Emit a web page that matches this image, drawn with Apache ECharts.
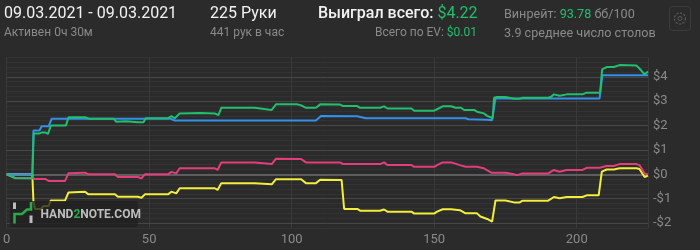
<!DOCTYPE html>
<html>
<head>
<meta charset="utf-8">
<script src="https://cdn.jsdelivr.net/npm/echarts@6/dist/echarts.min.js"></script>
<style>
html,body{margin:0;padding:0;background:#2b2b2b;}
#c{width:700px;height:250px;}
</style>
</head>
<body>
<div id="c"></div>
<script>
// ---- data (hand number, dollars) ----
const greenHands = [0,3,9,9.5,11.5,12.5,13.5,14.5,15.5,20.8,21.7,27.5,29,37.5,38.5,42,46,48,48.8,56.6,57.8,59,60.7,68,73,74.3,75.3,87,93,94.5,102,103.5,105,108.5,110,117,118,123,124,131,132.4,133.6,142,143,150,151,153,156,157.5,159.4,160.5,164,165,167.4,168.6,170.5,171,172,175,178,180,181,190,191,192,194,196.5,202,203.5,208.2,208.9,210.5,213,215,221,222,223.8,225];
const greenVals  = [0,-0.15,-0.16,1.68,1.68,1.72,1.72,1.66,2.0,2.0,2.34,2.34,2.28,2.28,2.16,2.18,2.14,2.14,2.3,2.3,2.39,2.3,2.5,2.52,2.5,2.43,2.73,2.73,2.64,2.87,2.87,2.82,2.73,2.73,2.87,2.86,2.8,2.8,2.73,2.73,2.79,2.7,2.7,2.61,2.61,2.67,2.79,2.79,2.73,2.73,2.64,2.64,2.57,2.5,2.4,2.3,3.14,3.17,3.17,3.1,3.1,3.14,3.14,3.18,3.28,3.22,3.28,3.28,3.35,3.35,4.3,4.4,4.4,4.48,4.46,4.34,4.1,4.22];

const blueHands = [0,9,9.4,11.5,12.3,14.7,15.8,57.5,59,108.5,110.3,123,126,161,162,168.6,170.3,171.5,208,209,225];
const blueVals  = [0,0,1.8,1.8,1.97,1.97,2.28,2.28,2.21,2.21,2.39,2.38,2.3,2.3,2.26,2.24,2.22,3.11,3.11,4.06,4.06];

const pinkHands = [0,3,9,10,13.5,14.7,20.5,21.7,27.5,28.7,38,39,46,47.3,48.5,56.6,57.8,59.5,60.7,73,74,75.3,87,93,94.5,103.3,105,117,118,131,132.4,133.6,142,143,150,151,153,156,159,161,165,167.4,170,175,178,179,181,190,192,194,196.5,202,203.5,208,210.5,213,215,221,222,223.8,225];
const pinkVals  = [0,-0.16,-0.16,-0.19,-0.19,-0.27,-0.27,0.05,0.07,0,0,-0.11,-0.11,-0.16,0,0,0.1,0.04,0.25,0.25,0.18,0.49,0.49,0.42,0.64,0.63,0.49,0.49,0.42,0.42,0.49,0.38,0.38,0.31,0.31,0.38,0.49,0.49,0.38,0.31,0.31,0.25,0.07,0.07,0,-0.03,0.04,0.04,0.18,0.11,0.18,0.18,0.27,0.27,0.34,0.34,0.42,0.42,0.38,0.04,0];

const yellowHands = [0,9,9.4,10,12,13,14.7,15.5,20.5,21.7,27.5,28.7,38,39,46,47.3,48.5,56.6,57.8,59.5,60.7,73,74,75.3,87,93,94.5,103.3,105,108.5,110,117.5,118.4,123,124,131,132.4,133.6,142,143,150,151,153,156,159,161,165,166.2,168.6,170.3,171.5,175,178,180,181,190,192,194,196.5,202,203.5,207.7,208.8,210.5,213,215,221,222,223.8,225];
const yellowVals  = [0,0,-1.12,-1.42,-1.42,-1.3,-1.3,-1.07,-1.07,-0.74,-0.71,-0.82,-0.82,-0.92,-0.92,-0.96,-0.82,-0.82,-0.71,-0.78,-0.57,-0.57,-0.64,-0.36,-0.36,-0.41,-0.2,-0.2,-0.36,-0.36,-0.22,-0.23,-1.42,-1.42,-1.49,-1.49,-1.44,-1.53,-1.53,-1.61,-1.61,-1.53,-1.43,-1.43,-1.47,-1.6,-1.6,-1.73,-1.83,-1.94,-1.07,-1.07,-1.15,-1.15,-1.08,-1.08,-0.93,-0.98,-0.93,-0.93,-0.86,-0.86,0.11,0.2,0.2,0.25,0.25,0.22,-0.11,-0.05];

const xTicks = [0, 50, 100, 150, 200];
const yTicks = [-2, -1, 0, 1, 2, 3, 4];

const pairs = (xs, ys) => xs.map((x, i) => [x, ys[i]]);
const fmtDollar = v => (v < 0 ? '-$' : '$') + Math.abs(v);

const GREEN = '#22bf6e', BLUE = '#3391ea', PINK = '#e33e78', YELLOW = '#f2ee3a';
const FONT = 'Roboto, "Noto Sans", sans-serif';

const majorLines = yTicks.map(v => ({
  yAxis: v,
  lineStyle: v === 0 ? {color: '#6f6f6f', width: 1.5, type: 'solid'} : {color: '#474747', width: 1, type: 'solid'},
  label: {show: true, position: 'end', distance: 5, formatter: fmtDollar(v), color: '#8a8a8a', fontSize: 13, fontFamily: FONT}
}));

const chart = echarts.init(document.getElementById('c'), null, {renderer: 'canvas'});
chart.setOption({
  backgroundColor: '#2b2b2b',
  animation: false,
  textStyle: {fontFamily: FONT},
  grid: {left: 4.7, right: 52, top: 57.3, bottom: 22, containLabel: false},
  xAxis: {
    type: 'value', min: 0, max: 225, interval: 50,
    axisLine: {show: false}, axisTick: {show: false},
    splitLine: {show: true, lineStyle: {color: '#393939', width: 1}},
    axisLabel: {color: '#8a8a8a', fontSize: 13, margin: 5, showMaxLabel: false,
      formatter: v => xTicks.includes(v) ? String(v) : ''}
  },
  yAxis: {
    type: 'value', position: 'right', min: -2.2, max: 4.8, interval: 0.2,
    axisLine: {show: false}, axisTick: {show: false}, axisLabel: {show: false},
    splitLine: {show: true, lineStyle: {color: '#333333', width: 1}}
  },
  series: [
    {type: 'line', data: pairs(yellowHands, yellowVals), showSymbol: false,
     lineStyle: {color: YELLOW, width: 2}, itemStyle: {color: YELLOW}, z: 2,
     markLine: {silent: true, symbol: 'none', z: 1, data: majorLines}},
    {type: 'line', data: pairs(pinkHands, pinkVals), showSymbol: false,
     lineStyle: {color: PINK, width: 2}, itemStyle: {color: PINK}, z: 3},
    {type: 'line', data: pairs(blueHands, blueVals), showSymbol: false,
     lineStyle: {color: BLUE, width: 2}, itemStyle: {color: BLUE}, z: 4},
    {type: 'line', data: pairs(greenHands, greenVals), showSymbol: false,
     lineStyle: {color: GREEN, width: 2}, itemStyle: {color: GREEN}, z: 5}
  ],
  graphic: [
    // header left
    {type: 'text', left: 4, top: 6, z: 100, style: {text: '09.03.2021 - 09.03.2021', fill: '#f2f2f2', font: '16px ' + FONT}},
    {type: 'text', left: 4, top: 27, z: 100, style: {text: 'Активен 0ч 30м', fill: '#8a8a8a', font: '12px ' + FONT}},
    {type: 'text', left: 210, top: 6, z: 100, style: {text: '225 Руки', fill: '#f2f2f2', font: '16px ' + FONT}},
    {type: 'text', left: 210, top: 27, z: 100, style: {text: '441 рук в час', fill: '#8a8a8a', font: '12px ' + FONT}},
    {type: 'text', left: 318, top: 6, z: 100, style: {
      text: '{w|Выиграл всего: }{g|$4.22}',
      rich: {w: {fill: '#f2f2f2', fontSize: 16, fontWeight: 500, fontFamily: FONT},
             g: {fill: GREEN, fontSize: 16, fontFamily: FONT}}}},
    {type: 'text', right: 223, top: 27, z: 100, style: {
      text: '{w|Всего по EV: }{g|$0.01}', align: 'right',
      rich: {w: {fill: '#8a8a8a', fontSize: 12, fontFamily: FONT},
             g: {fill: GREEN, fontSize: 12, fontFamily: FONT}}}},
    {type: 'text', left: 504, top: 8, z: 100, style: {
      text: '{w|Винрейт: }{g|93.78}{w| бб/100}',
      rich: {w: {fill: '#8a8a8a', fontSize: 12.6, fontFamily: FONT},
             g: {fill: GREEN, fontSize: 12.6, fontFamily: FONT}}}},
    {type: 'text', left: 504, top: 27, z: 100, style: {text: '3.9 среднее число столов', fill: '#8a8a8a', font: '12.6px ' + FONT}},
    // gear button
    {type: 'rect', z: 100, shape: {x: 669.5, y: 6.5, width: 21, height: 24, r: 3},
     style: {fill: '#2b2b2b', stroke: '#3c3c3c', lineWidth: 1}},
    {type: 'circle', z: 101, shape: {cx: 680, cy: 18.5, r: 5.5},
     style: {fill: 'none', stroke: '#5a5a5a', lineWidth: 1.2, lineDash: [2.2, 1.4]}},
    {type: 'circle', z: 101, shape: {cx: 680, cy: 18.5, r: 2},
     style: {fill: 'none', stroke: '#5a5a5a', lineWidth: 1}},
    // watermark
    {type: 'rect', z: 100, shape: {x: 10, y: 201, width: 128, height: 26, r: 2},
     style: {fill: 'rgba(32,32,32,0.78)'}},
    {type: 'rect', z: 101, shape: {x: 13, y: 202.5, width: 3, height: 6.5}, style: {fill: '#bdbdbd'}},
    {type: 'rect', z: 101, shape: {x: 29.5, y: 215.5, width: 3, height: 7.5}, style: {fill: '#bdbdbd'}},
    {type: 'polyline', z: 101, shape: {points: [[14.5, 223.5], [14.5, 214], [22, 214], [27, 209.5], [31, 209.5], [31, 202]]},
     style: {fill: 'none', stroke: '#2aa84a', lineWidth: 2.6}},
    {type: 'text', left: 40.5, top: 209, z: 101, style: {
      text: '{w|HAND}{g|2}{w|NOTE.COM}',
      rich: {w: {fill: '#bdbdbd', fontSize: 12, fontWeight: 'bold', fontFamily: FONT},
             g: {fill: '#2aa84a', fontSize: 12, fontWeight: 'bold', fontFamily: FONT}}}}
  ]
});
</script>
</body>
</html>
